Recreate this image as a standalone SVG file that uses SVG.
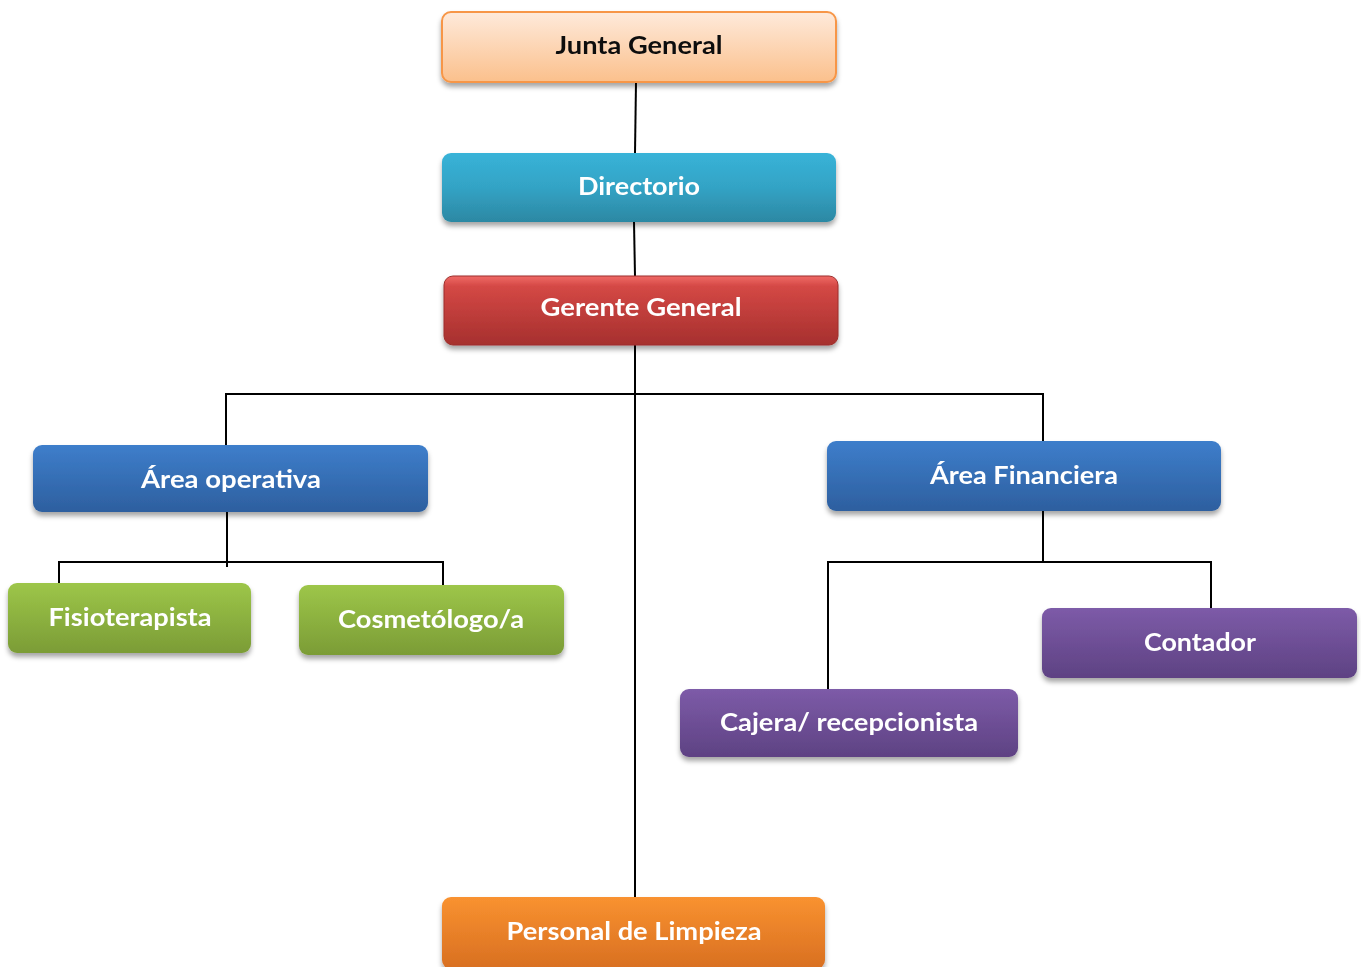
<svg xmlns="http://www.w3.org/2000/svg" width="1361" height="967" viewBox="0 0 1361 967">
<style>
.box{filter:url(#sh)}
.t{font-family:Lato,"Open Sans","Liberation Sans",sans-serif;font-weight:bold;font-size:24px;text-anchor:middle;fill:#fff}
.dk{fill:#111}
.c{stroke:#000;stroke-width:2;fill:none}
</style>
<defs>
<filter id="sh" x="-10%" y="-20%" width="120%" height="150%">
<feDropShadow dx="0" dy="4" stdDeviation="2.5" flood-color="#000" flood-opacity="0.35"/>
</filter>
<linearGradient id="gPeach" x1="0" y1="0" x2="0" y2="1"><stop offset="0" stop-color="#feeadb"/><stop offset="1" stop-color="#fbc08c"/></linearGradient>
<linearGradient id="gCyan" x1="0" y1="0" x2="0" y2="1"><stop offset="0" stop-color="#38b3d8"/><stop offset="0.5" stop-color="#33a3c5"/><stop offset="1" stop-color="#2c88a3"/></linearGradient>
<linearGradient id="gRed" x1="0" y1="0" x2="0" y2="1"><stop offset="0" stop-color="#f06a66"/><stop offset="0.15" stop-color="#d44845"/><stop offset="1" stop-color="#a6302e"/></linearGradient>
<linearGradient id="gBlue" x1="0" y1="0" x2="0" y2="1"><stop offset="0" stop-color="#3e7ecb"/><stop offset="1" stop-color="#2d5f9f"/></linearGradient>
<linearGradient id="gGreen" x1="0" y1="0" x2="0" y2="1"><stop offset="0" stop-color="#9dc649"/><stop offset="1" stop-color="#7b9c36"/></linearGradient>
<linearGradient id="gPurple" x1="0" y1="0" x2="0" y2="1"><stop offset="0" stop-color="#7d5ba8"/><stop offset="1" stop-color="#5e4283"/></linearGradient>
<linearGradient id="gOrange" x1="0" y1="0" x2="0" y2="1"><stop offset="0" stop-color="#f99230"/><stop offset="1" stop-color="#d86f21"/></linearGradient>
</defs>
<rect width="1361" height="967" fill="#fff"/>
<g id="connectors">
<path class="c" d="M636 82 L635 153"/>
<path class="c" d="M634 222 L635 276"/>
<path class="c" d="M635 345 L635 897"/>
<path class="c" d="M226 445 V394 H1043 V441"/>
<path class="c" d="M227 512 V567"/>
<path class="c" d="M59 585 V562 H443 V586"/>
<path class="c" d="M1043 511 V562"/>
<path class="c" d="M828 689 V562 H1211 V608"/>
</g>
<g id="junta" class="box"><rect x="442" y="12" width="394" height="70" rx="9" fill="url(#gPeach)" stroke="#f79646" stroke-width="2"/><text class="t dk" x="639" y="54" textLength="167" lengthAdjust="spacingAndGlyphs">Junta General</text></g>
<g id="directorio" class="box"><rect x="442" y="153" width="394" height="69" rx="9" fill="url(#gCyan)"/><text class="t" x="639" y="195" textLength="122" lengthAdjust="spacingAndGlyphs">Directorio</text></g>
<g id="gerente" class="box"><rect x="444" y="276" width="394" height="69" rx="9" fill="url(#gRed)" stroke="#9c2f2c" stroke-width="1"/><text class="t" x="641" y="316" textLength="201" lengthAdjust="spacingAndGlyphs">Gerente General</text></g>
<g id="area-operativa" class="box"><rect x="33" y="445" width="395" height="67" rx="9" fill="url(#gBlue)"/><text class="t" x="231" y="488" textLength="180" lengthAdjust="spacingAndGlyphs">Área operativa</text></g>
<g id="area-financiera" class="box"><rect x="827" y="441" width="394" height="70" rx="9" fill="url(#gBlue)"/><text class="t" x="1024" y="484" textLength="188" lengthAdjust="spacingAndGlyphs">Área Financiera</text></g>
<g id="fisioterapista" class="box"><rect x="8" y="583" width="243" height="70" rx="9" fill="url(#gGreen)"/><text class="t" x="130" y="626" textLength="163" lengthAdjust="spacingAndGlyphs">Fisioterapista</text></g>
<g id="cosmetologo" class="box"><rect x="299" y="585" width="265" height="70" rx="9" fill="url(#gGreen)"/><text class="t" x="431" y="628" textLength="186" lengthAdjust="spacingAndGlyphs">Cosmetólogo/a</text></g>
<g id="contador" class="box"><rect x="1042" y="608" width="315" height="70" rx="9" fill="url(#gPurple)"/><text class="t" x="1200" y="651" textLength="112" lengthAdjust="spacingAndGlyphs">Contador</text></g>
<g id="cajera" class="box"><rect x="680" y="689" width="338" height="68" rx="9" fill="url(#gPurple)"/><text class="t" x="849" y="731" textLength="258" lengthAdjust="spacingAndGlyphs">Cajera/ recepcionista</text></g>
<g id="limpieza" class="box"><rect x="442" y="897" width="383" height="72" rx="9" fill="url(#gOrange)"/><text class="t" x="634" y="940" textLength="255" lengthAdjust="spacingAndGlyphs">Personal de Limpieza</text></g>
</svg>
